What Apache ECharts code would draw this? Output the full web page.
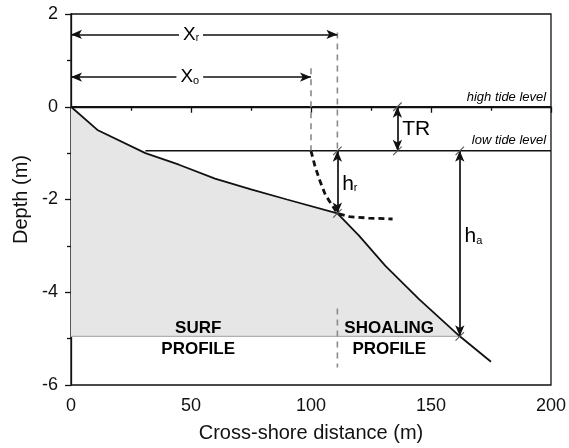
<!DOCTYPE html>
<html>
<head>
<meta charset="utf-8">
<script src="https://cdn.jsdelivr.net/npm/echarts@6/dist/echarts.min.js"></script>
<style>html,body{margin:0;padding:0;background:#fff}#c{width:569px;height:448px}</style>
</head>
<body>
<div id="c"></div>
<script>
// ---- data ----
const profileX = [0, 11, 31, 45, 60, 75, 90, 111, 120, 131, 145, 162, 175];
const profileY = [0, -0.5, -1.0, -1.25, -1.55, -1.78, -2.0, -2.3, -2.78, -3.43, -4.15, -4.95, -5.5];
const breakerX = [100, 101.5, 103.5, 106, 108.5, 111, 116, 124, 134];
const breakerY = [-0.95, -1.25, -1.57, -1.9, -2.1, -2.3, -2.37, -2.4, -2.42];
const highTide = 0;
const lowTide = -0.95;
const closureDepth = -4.95;
const xR = 111;
const xO = 100;
const xRArrowY = 1.56;
const xOArrowY = 0.64;
const xRTop = 1.6;
const xOTop = 0.83;
const trX = 136;
const haX = 162;
const breakDepth = -2.3;
const shoalDashY = [-4.35, -5.62];
const xTicks = [0, 50, 100, 150, 200];
const yTicks = [-6, -4, -2, 0, 2];

// ---- derived ----
const profile = profileX.map((x, i) => [x, profileY[i]]);
const fillPts = profile.filter(p => p[0] <= haX);
const breaker = breakerX.map((x, i) => [x, breakerY[i]]);
const font = 'Liberation Sans, Arial, Helvetica, sans-serif';
const ink = '#000';

function lineSeries(data, color, width, type, z) {
  return { type: 'line', data: data, symbol: 'none', silent: true, animation: false,
    lineStyle: { color: color, width: width, type: type || 'solid' }, z: z || 3 };
}
function arrow(a, b) {
  return [{ coord: a }, { coord: b }];
}
function textPoint(x, y, formatter, extra) {
  return { value: [x, y], label: Object.assign({ show: true, formatter: formatter, position: 'inside', color: ink, opacity: 1, fontFamily: font }, extra) };
}
function subRich(big, small, lh, pad) {
  return { m: { fontSize: big, fontFamily: font, color: ink, lineHeight: lh },
           s: { fontSize: small, fontFamily: font, color: ink, lineHeight: lh, padding: [pad, 0, 0, 0] } };
}

const chart = echarts.init(document.getElementById('c'));
chart.setOption({
  animation: false,
  grid: { left: 71, right: 17, top: 14, bottom: 62, show: true, borderColor: '#111', borderWidth: 1.3, backgroundColor: 'transparent' },
  xAxis: {
    type: 'value', min: xTicks[0], max: xTicks[xTicks.length - 1], interval: 50,
    name: 'Cross-shore distance (m)', nameLocation: 'middle', nameGap: 38,
    nameTextStyle: { fontSize: 20, color: '#111', fontFamily: font },
    axisLine: { lineStyle: { color: '#111', width: 1.3 } },
    axisTick: { length: 6, lineStyle: { color: '#111', width: 1.3 } },
    minorTick: { show: true, splitNumber: 2, length: 4, lineStyle: { color: '#111', width: 1.3 } },
    axisLabel: { fontSize: 18, color: '#111', margin: 12, fontFamily: font },
    splitLine: { show: false }
  },
  yAxis: {
    type: 'value', min: yTicks[0], max: yTicks[yTicks.length - 1], interval: 2,
    name: 'Depth (m)', nameLocation: 'middle', nameGap: 38,
    nameTextStyle: { fontSize: 20, color: '#111', fontFamily: font },
    axisLine: { show: true, lineStyle: { color: '#111', width: 1.3 } },
    axisTick: { show: true, length: 6, lineStyle: { color: '#111', width: 1.3 } },
    minorTick: { show: true, splitNumber: 2, length: 4, lineStyle: { color: '#111', width: 1.3 } },
    axisLabel: { fontSize: 18, color: '#111', margin: 13, fontFamily: font },
    splitLine: { show: false }
  },
  series: [
    // grey fill of the profile
    { type: 'line', data: fillPts, symbol: 'none', silent: true, animation: false,
      lineStyle: { width: 0 }, areaStyle: { color: '#e6e6e6', opacity: 1, origin: closureDepth }, z: 1 },
    // closure depth line
    lineSeries([[0, closureDepth], [haX, closureDepth]], '#b0b0b0', 1.2, 'solid', 2),
    // tide levels
    lineSeries([[0, highTide], [200, highTide]], '#111', 1.4),
    lineSeries([[31, lowTide], [200, lowTide]], '#111', 1.4),
    // dashed vertical markers
    lineSeries([[xR, xRTop], [xR, lowTide]], '#8a8a8a', 1.6, [6, 5]),
    lineSeries([[xO, xOTop], [xO, lowTide]], '#8a8a8a', 1.6, [6, 5]),
    lineSeries([[xR, shoalDashY[0]], [xR, shoalDashY[1]]], '#8a8a8a', 1.6, [6, 5]),
    // breaker curve
    lineSeries(breaker, '#111', 2.8, [6, 4], 4),
    // beach profile
    lineSeries(profile, '#111', 1.8, 'solid', 5),
    // arrows
    { type: 'line', data: [], silent: true, animation: false, z: 6,
      markLine: {
        silent: true, animation: false, symbol: ['arrow', 'arrow'], symbolSize: [7, 11],
        label: { show: false },
        lineStyle: { color: '#111', width: 1.7, type: 'solid', opacity: 1 },
        emphasis: { disabled: true },
        data: [
          arrow([0, xRArrowY], [xR, xRArrowY]),
          arrow([0, xOArrowY], [xO, xOArrowY]),
          arrow([trX, highTide], [trX, lowTide]),
          arrow([xR, lowTide], [xR, breakDepth]),
          arrow([haX, lowTide], [haX, closureDepth])
        ]
      }
    },
    // slanted end marks
    { type: 'scatter', silent: true, animation: false, z: 7,
      symbol: 'rect', symbolSize: [1.1, 12], symbolRotate: -45,
      itemStyle: { color: '#555', opacity: 1 },
      data: [[trX, highTide], [trX, lowTide], [xR, lowTide], [xR, breakDepth], [haX, lowTide], [haX, closureDepth]]
    },
    // text labels
    { type: 'scatter', silent: true, animation: false, z: 8, symbolSize: 0,
      itemStyle: { opacity: 1 },
      data: [
        textPoint(50, xRArrowY, '{m|X}{s|r}', { backgroundColor: '#fff', padding: [0, 4, 0, 4], rich: subRich(19, 10, 20, 8) }),
        textPoint(49.5, xOArrowY, '{m|X}{s|o}', { backgroundColor: '#fff', padding: [0, 4, 0, 4], rich: subRich(19, 11, 20, 8) }),
        textPoint(198, 0.2, 'high tide level', { align: 'right', fontSize: 13, fontStyle: 'italic' }),
        textPoint(198, -0.73, 'low tide level', { align: 'right', fontSize: 13, fontStyle: 'italic' }),
        textPoint(138, -0.48, 'TR', { align: 'left', fontSize: 21 }),
        textPoint(113, -1.66, '{m|h}{s|r}', { align: 'left', rich: subRich(21, 11, 22, 9) }),
        textPoint(164, -2.8, '{m|h}{s|a}', { align: 'left', rich: subRich(21, 11, 22, 9) }),
        textPoint(53, -5.01, 'SURF\nPROFILE', { fontSize: 17, fontWeight: 'bold', lineHeight: 21 }),
        textPoint(132.6, -5.01, 'SHOALING\nPROFILE', { fontSize: 17, fontWeight: 'bold', lineHeight: 21 })
      ]
    }
  ]
});
</script>
</body>
</html>
